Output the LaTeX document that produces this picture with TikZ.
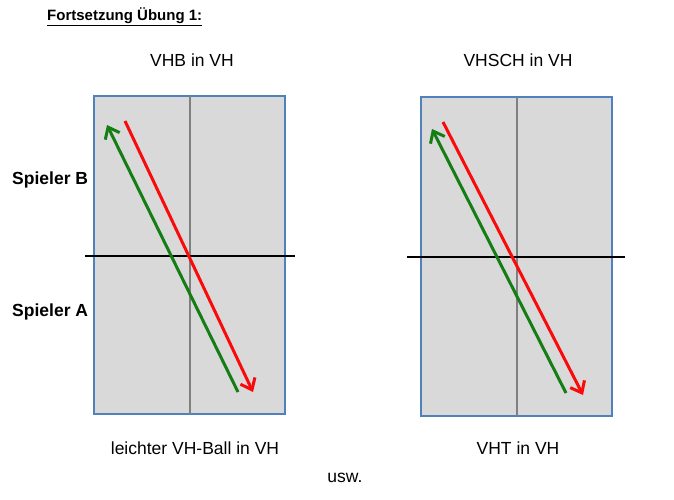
\documentclass[tikz,border=0pt]{standalone}
\usepackage{fontspec}
\setmainfont{Liberation Sans}
\usetikzlibrary{arrows.meta}
\definecolor{tablefill}{RGB}{217,217,217}
\definecolor{tableedge}{RGB}{79,129,189}
\definecolor{ballred}{RGB}{250,10,10}
\definecolor{ballgreen}{RGB}{20,125,20}
\begin{document}
\begin{tikzpicture}
[
    x=1pt, y=-1pt,
    label/.style={inner sep=0pt, font=\fontsize{17.5}{20}\selectfont},
    side/.style={inner sep=0pt, anchor=west, font=\fontsize{17.5}{20}\selectfont\bfseries},
    table/.style={draw=tableedge, fill=tablefill, line width=1.5pt},
    midline/.style={draw=gray, line width=1.2pt},
    net/.style={draw=black, line width=1.6pt},
    ball/.style={line width=3pt, -{Straight Barb[length=10pt, width=16pt, line width=3pt]}},
]
\useasboundingbox (0,0) rectangle (674,500);
% titles
\node[anchor=west, inner sep=0pt, font=\fontsize{15}{18}\selectfont\bfseries] (title) at (47,17) {\underline{Fortsetzung Übung 1:}};
\node[label] (vhb) at (192,60) {VHB in VH};
\node[label] (vhsch) at (518,60) {VHSCH in VH};
\node[side] (spb) at (12,180) {Spieler B};
\node[side] (spa) at (12,312) {Spieler A};
\node[label] (leicht) at (195,448) {leichter VH-Ball in VH};
\node[label] (vht) at (518,448) {VHT in VH};
\node[label] (usw) at (345,478) {usw.};
% left table
\draw[table] (94,96) rectangle (285,414);
\draw[midline] (190,96) -- (190,414);
\draw[net] (85,256) -- (295,256);
\coordinate (r1s) at (125,121);
\coordinate (r1e) at (253,392);
\coordinate (g1s) at (238,392);
\coordinate (g1e) at (107,125);
\draw[ball, ballred] (r1s) -- (r1e);
\draw[ball, ballgreen] (g1s) -- (g1e);
% right table
\draw[table] (421,97) rectangle (612,416);
\draw[midline] (517,97) -- (517,416);
\draw[net] (407,257) -- (625,257);
\coordinate (r2s) at (443,122);
\coordinate (r2e) at (583,395);
\coordinate (g2s) at (566,393);
\coordinate (g2e) at (432,129);
\draw[ball, ballred] (r2s) -- (r2e);
\draw[ball, ballgreen] (g2s) -- (g2e);
\end{tikzpicture}
\end{document}
